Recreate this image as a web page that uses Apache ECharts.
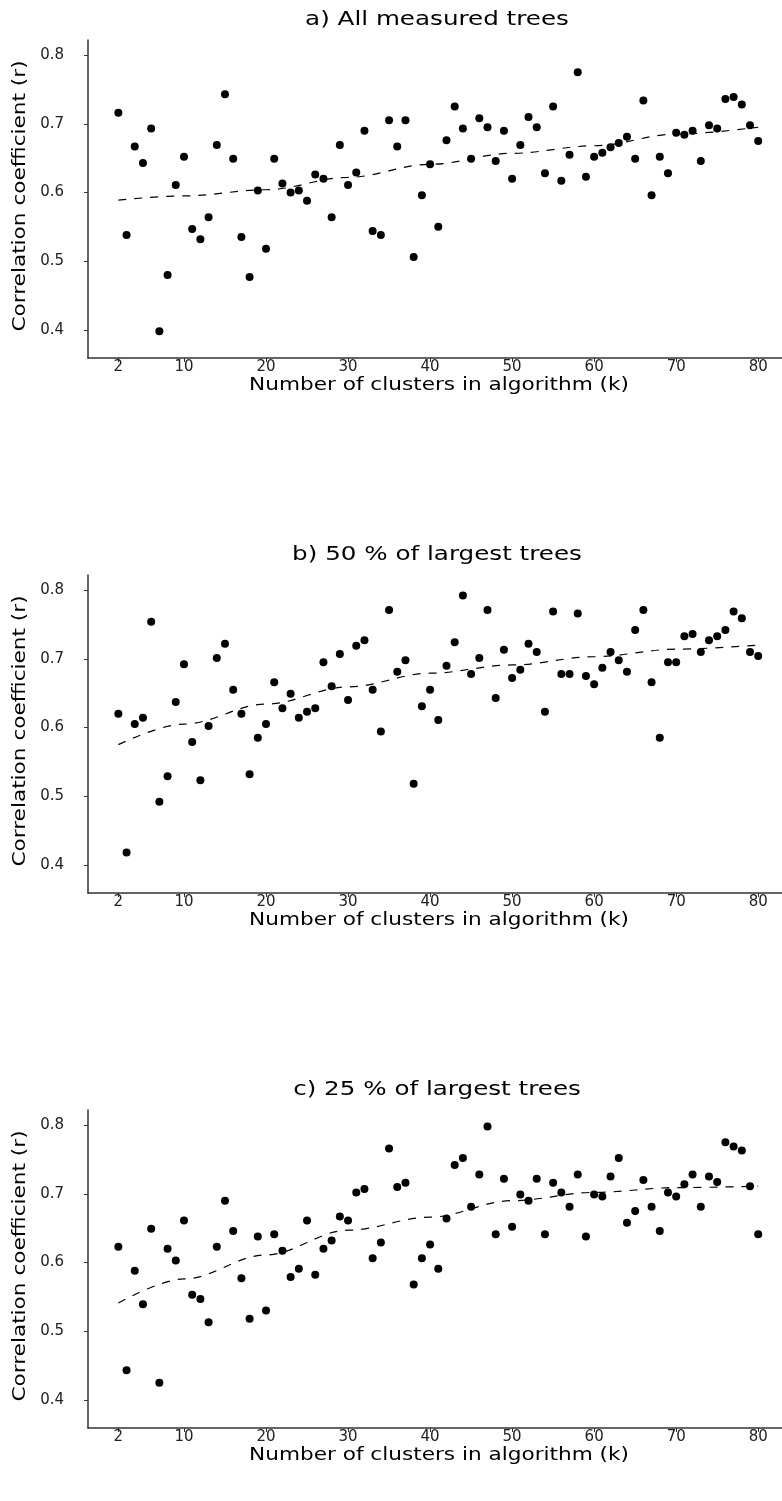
<!DOCTYPE html>
<html>
<head>
<meta charset="utf-8">
<script src="https://cdn.jsdelivr.net/npm/echarts@6/dist/echarts.min.js"></script>
<style>
  html, body { margin: 0; padding: 0; background: #ffffff; }
  #chart { width: 782px; height: 1501px; }
</style>
</head>
<body>
<div id="chart"></div>
<script>
// Number of clusters k used in the algorithm
const clusterK = [2,3,4,5,6,7,8,9,10,11,12,13,14,15,16,17,18,19,20,21,22,23,24,25,26,27,28,29,30,31,32,33,34,35,36,37,38,39,40,41,42,43,44,45,46,47,48,49,50,51,52,53,54,55,56,57,58,59,60,61,62,63,64,65,66,67,68,69,70,71,72,73,74,75,76,77,78,79,80];

// Correlation coefficient r for each k
const rAllTrees = [0.716,0.538,0.667,0.643,0.693,0.398,0.480,0.611,0.652,0.547,0.532,0.564,0.669,0.743,0.649,0.535,0.477,0.603,0.518,0.649,0.613,
  0.600,0.603,0.588,0.626,0.620,0.564,0.669,0.611,0.629,0.690,0.544,0.538,0.705,0.667,0.705,0.506,0.596,0.641,0.550,0.676,0.725,
  0.693,0.649,0.708,0.695,0.646,0.690,0.620,0.669,0.710,0.695,0.628,0.725,0.617,0.655,0.775,0.623,0.652,0.658,0.666,0.672,0.681,
  0.649,0.734,0.596,0.652,0.628,0.687,0.684,0.690,0.646,0.698,0.693,0.736,0.739,0.728,0.698,0.675];

const rLargest50 = [0.620,0.418,0.605,0.614,0.754,0.492,0.529,0.637,0.692,0.579,0.523,0.602,0.701,0.722,0.655,0.620,0.532,0.585,0.605,0.666,0.628,
  0.649,0.614,0.623,0.628,0.695,0.660,0.707,0.640,0.719,0.727,0.655,0.594,0.771,0.681,0.698,0.518,0.631,0.655,0.611,0.690,0.724,
  0.792,0.678,0.701,0.771,0.643,0.713,0.672,0.684,0.722,0.710,0.623,0.769,0.678,0.678,0.766,0.675,0.663,0.687,0.710,0.698,0.681,
  0.742,0.771,0.666,0.585,0.695,0.695,0.733,0.736,0.710,0.727,0.733,0.742,0.769,0.759,0.710,0.704];

const rLargest25 = [0.623,0.443,0.588,0.539,0.649,0.425,0.620,0.603,0.661,0.553,0.547,0.513,0.623,0.690,0.646,0.577,0.518,0.638,0.530,0.641,0.617,
  0.579,0.591,0.661,0.582,0.620,0.632,0.667,0.661,0.702,0.707,0.606,0.629,0.766,0.710,0.716,0.568,0.606,0.626,0.591,0.664,0.742,
  0.752,0.681,0.728,0.798,0.641,0.722,0.652,0.699,0.690,0.722,0.641,0.716,0.702,0.681,0.728,0.638,0.699,0.696,0.725,0.752,0.658,
  0.675,0.720,0.681,0.646,0.702,0.696,0.714,0.728,0.681,0.725,0.717,0.775,0.769,0.763,0.711,0.641];

// Smoothed trend (dashed line) sampled along k
const trendK = [2,10,20,30,40,50,60,70,80];
const trendAllTrees = [0.589,0.595,0.604,0.622,0.641,0.657,0.668,0.685,0.695];
const trendLargest50 = [0.575,0.605,0.634,0.659,0.679,0.691,0.703,0.714,0.720];
const trendLargest25 = [0.541,0.576,0.611,0.647,0.666,0.690,0.702,0.709,0.711];

// Axis ticks and labels
const xTicks = [2,10,20,30,40,50,60,70,80];
const yTicks = [0.4,0.5,0.6,0.7,0.8];
const panelTitles = ['a) All measured trees', 'b) 50 % of largest trees', 'c) 25 % of largest trees'];
const xAxisTitle = 'Number of clusters in algorithm (k)';
const yAxisTitle = 'Correlation coefficient (r)';

const panels = [
  { r: rAllTrees, trend: trendAllTrees, top: 40 },
  { r: rLargest50, trend: trendLargest50, top: 575 },
  { r: rLargest25, trend: trendLargest25, top: 1110 }
];

const FONT = 'DejaVu Sans, Verdana, sans-serif';
const GRID_LEFT = 88;
const PLOT_H = 318;
const PLOT_CX = (GRID_LEFT + 782) / 2;
const AXIS_COLOR = '#333333';

// Panel titles and axis titles, set in a slightly widened face
function label(text, x, y, size, stretch, rotation) {
  return {
    type: 'text',
    x: x,
    y: y,
    rotation: rotation || 0,
    scaleX: stretch,
    silent: true,
    style: {
      text: text,
      fontFamily: FONT,
      fontSize: size,
      fill: '#000000',
      align: 'center',
      verticalAlign: 'middle'
    }
  };
}

const graphicTexts = panels.flatMap((p, i) => [
  label(panelTitles[i], PLOT_CX + 2, p.top - 20, 20, 1.23, 0),
  label(xAxisTitle, PLOT_CX + 4, p.top + PLOT_H + 27, 18, 1.2, 0),
  label(yAxisTitle, 20, p.top + PLOT_H / 2 - 3, 18, 1.2, Math.PI / 2)
]);

const option = {
  animation: false,
  backgroundColor: '#ffffff',
  graphic: graphicTexts,
  grid: panels.map(p => ({ left: GRID_LEFT, right: 0, top: p.top, height: PLOT_H })),
  xAxis: panels.map((p, i) => ({
    type: 'value',
    gridIndex: i,
    min: -1.7,
    max: 82.9,
    splitLine: { show: false },
    axisLine: { onZero: false, lineStyle: { color: AXIS_COLOR, width: 1.5 } },
    axisTick: { inside: false, length: 4, customValues: xTicks, lineStyle: { color: AXIS_COLOR, width: 1 } },
    axisLabel: { customValues: xTicks, margin: 2, fontFamily: FONT, fontSize: 15, color: '#222222' }
  })),
  yAxis: panels.map((p, i) => ({
    type: 'value',
    gridIndex: i,
    min: 0.359,
    max: 0.822,
    splitLine: { show: false },
    axisLine: { show: true, onZero: false, lineStyle: { color: AXIS_COLOR, width: 1.5 } },
    axisTick: { show: true, inside: false, length: 4, customValues: yTicks, lineStyle: { color: AXIS_COLOR, width: 1 } },
    axisLabel: { customValues: yTicks, margin: 24, fontFamily: FONT, fontSize: 15, color: '#222222',
      formatter: v => v.toFixed(1) }
  })),
  series: panels.flatMap((p, i) => [
    {
      type: 'line',
      xAxisIndex: i,
      yAxisIndex: i,
      data: trendK.map((k, j) => [k, p.trend[j]]),
      smooth: 0.35,
      smoothMonotone: 'x',
      showSymbol: false,
      symbol: 'none',
      lineStyle: { color: '#000000', width: 1.2, type: [8, 8] },
      z: 2
    },
    {
      type: 'scatter',
      xAxisIndex: i,
      yAxisIndex: i,
      data: clusterK.map((k, j) => [k, p.r[j]]),
      symbol: 'circle',
      symbolSize: 8,
      itemStyle: { color: '#000000', opacity: 1 },
      z: 3
    }
  ])
};

const chart = echarts.init(document.getElementById('chart'), null, { renderer: 'canvas' });
chart.setOption(option);
</script>
</body>
</html>
